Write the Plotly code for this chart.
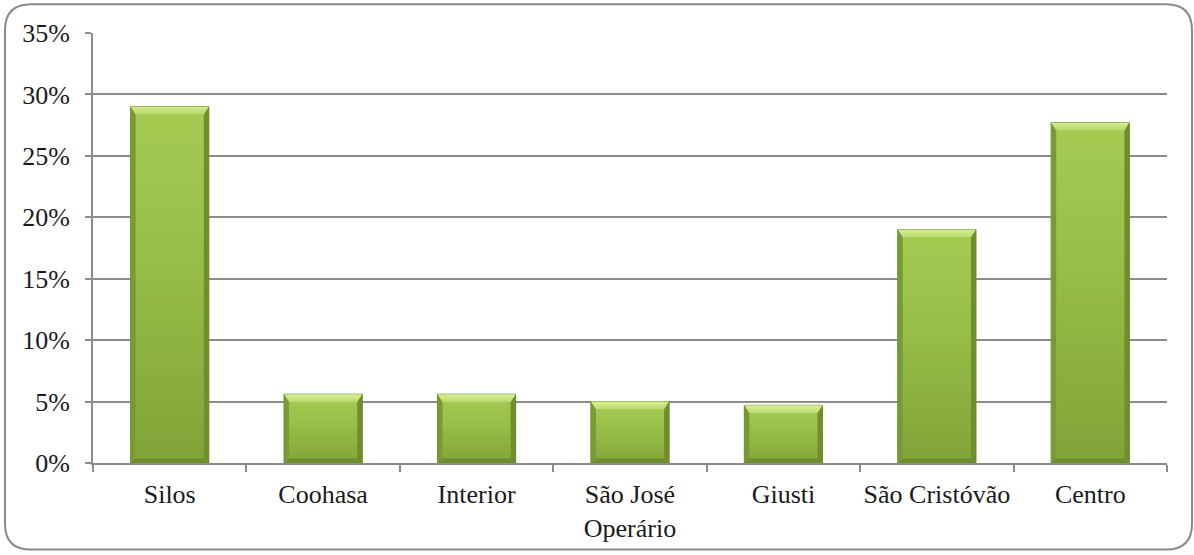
import plotly.graph_objects as go

# Share of respondents by neighbourhood
categories = ["Silos", "Coohasa", "Interior", "São José<br>Operário", "Giusti", "São Cristóvão", "Centro"]
values = [0.290, 0.056, 0.056, 0.050, 0.047, 0.190, 0.277]

W, H = 1194, 555
ML, MR, MT, MB = 93, 27, 33, 90
PW, PH = W - ML - MR, H - MT - MB
Y_MAX = 0.35
BAR_W = 0.51

FONT = "Liberation Serif"
GRID = "#8c8c8c"

# pixel -> data helpers for the bevel geometry
px_x = (len(categories)) / PW
px_y = Y_MAX / PH
dx, dy = 5 * px_x, 8 * px_y

fig = go.Figure()

xs = list(range(len(categories)))
fig.add_trace(go.Bar(
    x=xs, y=values, width=BAR_W,
    marker=dict(color="#90b640", line=dict(color="#6f8f2e", width=1)),
    hoverinfo="skip", showlegend=False,
))

for x, v in zip(xs, values):
    l, r = x - BAR_W / 2, x + BAR_W / 2
    # body with vertical gradient
    fig.add_trace(go.Scatter(
        x=[l + dx, r - dx, r - dx, l + dx, l + dx],
        y=[dy * 0.6, dy * 0.6, v - dy, v - dy, dy * 0.6],
        fill="toself", mode="lines", line=dict(width=0),
        fillgradient=dict(type="vertical", start=0, stop=v,
                          colorscale=[[0, "#80a338"], [0.6, "#98bf47"], [1, "#a5cb53"]]),
        hoverinfo="skip", showlegend=False,
    ))
    # top bevel
    fig.add_trace(go.Scatter(
        x=[l, r, r - dx, l + dx, l],
        y=[v, v, v - dy, v - dy, v],
        fill="toself", mode="lines", line=dict(width=0),
        fillgradient=dict(type="vertical", start=v - dy, stop=v,
                          colorscale=[[0, "#b0d462"], [1, "#d5eb90"]]),
        hoverinfo="skip", showlegend=False,
    ))
    # left bevel
    fig.add_trace(go.Scatter(
        x=[l, l + dx, l + dx, l, l],
        y=[0, dy * 0.6, v - dy, v, 0],
        fill="toself", mode="lines", line=dict(width=0),
        fillcolor="rgba(118,148,50,0.85)",
        hoverinfo="skip", showlegend=False,
    ))
    # right bevel
    fig.add_trace(go.Scatter(
        x=[r, r - dx, r - dx, r, r],
        y=[0, dy * 0.6, v - dy, v, 0],
        fill="toself", mode="lines", line=dict(width=0),
        fillcolor="rgba(108,138,44,0.9)",
        hoverinfo="skip", showlegend=False,
    ))
    # bottom bevel
    fig.add_trace(go.Scatter(
        x=[l, r, r - dx, l + dx, l],
        y=[0, 0, dy * 0.6, dy * 0.6, 0],
        fill="toself", mode="lines", line=dict(width=0),
        fillcolor="#6e8d2d",
        hoverinfo="skip", showlegend=False,
    ))


def to_paper(px, py):
    return (px - ML) / PW, (H - MB - py) / PH


# rounded chart border
x0, y0, x1, y1, rad = 5, 4, 1192, 552, 26


def P(px, py):
    a, b = to_paper(px, py)
    return f"{a:.5f},{b:.5f}"


path = (
    f"M {P(x0 + rad, y0)} L {P(x1 - rad, y0)} Q {P(x1, y0)} {P(x1, y0 + rad)} "
    f"L {P(x1, y1 - rad)} Q {P(x1, y1)} {P(x1 - rad, y1)} "
    f"L {P(x0 + rad, y1)} Q {P(x0, y1)} {P(x0, y1 - rad)} "
    f"L {P(x0, y0 + rad)} Q {P(x0, y0)} {P(x0 + rad, y0)} Z"
)

tick_font = dict(family=FONT, size=26, color="#1a1a1a")

fig.update_layout(
    width=W, height=H,
    margin=dict(l=ML, r=MR, t=MT, b=MB, pad=0),
    paper_bgcolor="white", plot_bgcolor="white",
    font=tick_font,
    shapes=[dict(type="path", path=path, xref="paper", yref="paper",
                 line=dict(color="#8a8a8a", width=2), layer="below")],
    xaxis=dict(
        range=[-0.5, len(categories) - 0.5],
        tickvals=xs, ticktext=categories,
        ticks="", showgrid=False, zeroline=False,
        showline=True, linecolor=GRID, linewidth=2,
        minor=dict(tickvals=[i - 0.5 for i in range(len(categories) + 1)],
                   ticks="outside", ticklen=7, tickcolor=GRID, tickwidth=2, showgrid=False),
        tickfont=tick_font,
        ticklabelstandoff=7,
        fixedrange=True,
    ),
    yaxis=dict(
        range=[0, Y_MAX], dtick=0.05, tickformat=".0%",
        ticks="outside", ticklen=6, tickcolor=GRID, tickwidth=2,
        showgrid=True, gridcolor=GRID, gridwidth=2,
        zeroline=False, showline=True, linecolor=GRID, linewidth=2,
        tickfont=tick_font,
        ticklabelstandoff=10,
        fixedrange=True,
    ),
)

fig.write_html("out.html")
